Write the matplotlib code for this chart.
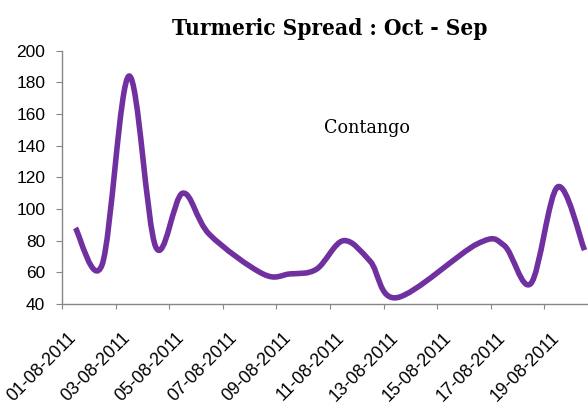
import matplotlib
matplotlib.use("Agg")
import matplotlib.pyplot as plt
from matplotlib.path import Path
from matplotlib.patches import PathPatch
import matplotlib.transforms as mtransforms
import numpy as np

# ---- data ----
days = [1, 2, 3, 4, 5, 6, 8, 9, 10, 11, 12, 13, 16, 17, 18, 19, 20]
spread = [88, 65, 184, 76, 110, 84, 59, 59, 62, 80, 67, 44, 78, 77, 53, 114, 74]
tick_days = [1, 3, 5, 7, 9, 11, 13, 15, 17, 19]
tick_labels = ["01-08-2011", "03-08-2011", "05-08-2011", "07-08-2011", "09-08-2011",
               "11-08-2011", "13-08-2011", "15-08-2011", "17-08-2011", "19-08-2011"]
y_ticks = [40, 60, 80, 100, 120, 140, 160, 180, 200]
title = "Turmeric Spread : Oct - Sep"
note = "Contango"

W, H = 588, 408
fig = plt.figure(figsize=(W / 100, H / 100), dpi=100)
ax = fig.add_axes([62 / W, 1 - 304 / H, 1 - 62 / W, (304 - 50.7) / H])

# smoothed line (Excel-like Bezier smoothing through the data points)
x = np.array(days, float)
y = np.array(spread, float)
n = len(x)
verts = [(x[0], y[0])]
codes = [Path.MOVETO]
t = 1 / 6
for i in range(n - 1):
    p0 = np.array([x[max(i - 1, 0)], y[max(i - 1, 0)]])
    p1 = np.array([x[i], y[i]])
    p2 = np.array([x[i + 1], y[i + 1]])
    p3 = np.array([x[min(i + 2, n - 1)], y[min(i + 2, n - 1)]])
    c1 = p1 + (p2 - p0) * t
    c2 = p2 - (p3 - p1) * t
    verts += [tuple(c1), tuple(c2), tuple(p2)]
    codes += [Path.CURVE4] * 3
patch = PathPatch(Path(verts, codes), facecolor="none", edgecolor="#7030A0",
                  lw=4.0, capstyle="butt", joinstyle="round")
ax.add_patch(patch)

ax.set_xlim(0.5, 20.13)
ax.set_ylim(40, 200)

for s in ["top", "right"]:
    ax.spines[s].set_visible(False)
for s in ["left", "bottom"]:
    ax.spines[s].set_color("#868686")
    ax.spines[s].set_linewidth(1.0)

tickfont = ["Liberation Sans", "DejaVu Sans"]
ax.set_yticks(y_ticks)
ax.set_yticklabels([str(v) for v in y_ticks], family=tickfont, fontsize=12.5)
ax.tick_params(axis="y", direction="out", length=4, color="#868686", pad=8)

ax.set_xticks([d - 0.5 for d in tick_days])
ax.set_xticklabels([])
ax.tick_params(axis="x", direction="out", length=3.6, color="#868686")
off = mtransforms.ScaledTranslation(12 / 100, -31 / 100, fig.dpi_scale_trans)
for d, lab in zip(tick_days, tick_labels):
    ax.text(d - 0.5, 40, lab, transform=ax.transData + off, rotation=45,
            rotation_mode="anchor", ha="right", va="center",
            family=tickfont, fontsize=12.8, clip_on=False)

serif = ["DejaVu Serif", "Liberation Serif"]
fig.text(330 / W, 1 - 29 / H, title, ha="center", va="center",
         family=serif, fontstretch="condensed", fontweight="bold", fontsize=16.2)
ax.text(11.9, 151, note, ha="center", va="center",
        family=serif, fontstretch="condensed", fontsize=14)

fig.savefig("out.png", dpi=100)
